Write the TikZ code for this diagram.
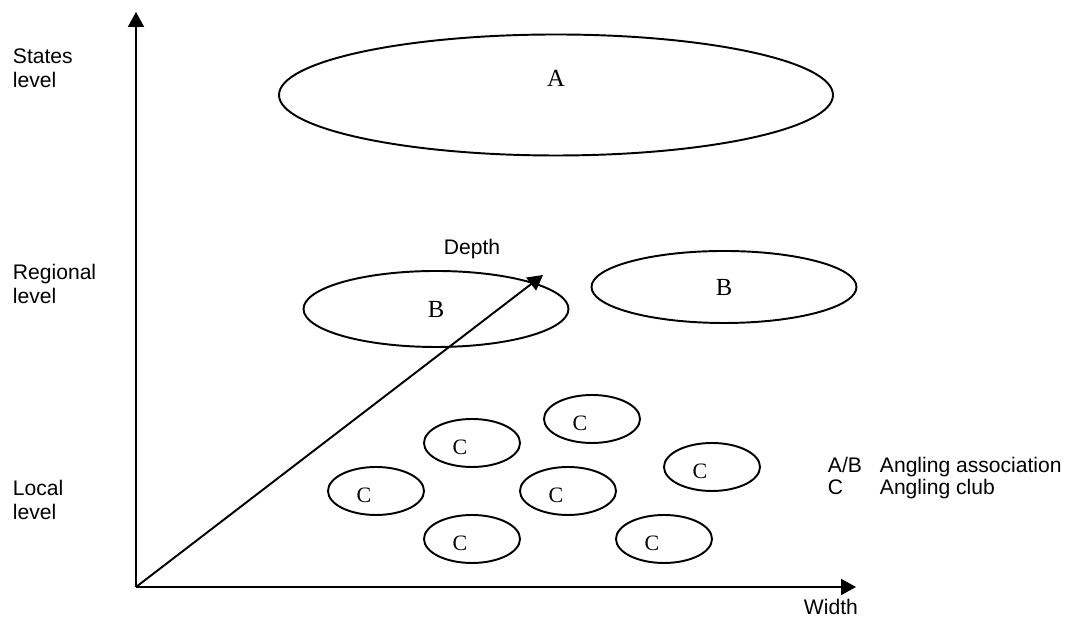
\documentclass[tikz,border=0pt]{standalone}
\usepackage{fontspec}
\setmainfont{Liberation Serif}
\setsansfont{Liberation Sans}
\usetikzlibrary{arrows.meta,shapes.geometric}

\begin{document}
\begin{tikzpicture}[-{Triangle[length=3mm,width=3.2mm]}, line width=1.1pt]
   \useasboundingbox (0,0) rectangle (21.38,12.42);
   \tikzstyle{assoc}=[ellipse, draw=black, inner sep=0, font=\fontsize{14}{16}\selectfont]
   \tikzstyle{club}=[assoc, minimum width=1.92cm, minimum height=0.96cm]
   \tikzstyle{lbl}=[inner sep=0, align=left, font=\sffamily\fontsize{12}{14.2}\selectfont]
   % axes
   \coordinate (origin) at (2.72,0.68);
   \coordinate (top) at (2.72,12.18);
   \coordinate (right) at (17.12,0.68);
   \coordinate (deep) at (10.86,6.92);
   \path (origin) edge (top);
   \path (origin) edge (right);
   \path (origin) edge (deep);
   \node[lbl] (depth) at (9.44,7.44) {Depth};
   \node[lbl, anchor=base west] (width) at (16.06,0.12) {Width};
   % levels
   \node[lbl, anchor=base west] (states) at (0.24,10.66) {States\\level};
   \node[lbl, anchor=base west] (regional) at (0.24,6.34) {Regional\\level};
   \node[lbl, anchor=base west] (local) at (0.24,2.02) {Local\\level};
   % associations
   \node[assoc, minimum width=11.08cm, minimum height=2.42cm,
         label={[yshift=0.34cm, font=\fontsize{14}{16}\selectfont]center:A}] (a) at (11.12,10.52) {};
   \node[assoc, minimum width=5.3cm, minimum height=1.52cm] (b1) at (8.72,6.24) {B};
   \node[assoc, minimum width=5.3cm, minimum height=1.44cm] (b2) at (14.48,6.68) {B};
   % clubs
   \foreach \x/\y [count=\i] in {9.44/3.56, 11.84/4.04, 14.24/3.08, 7.52/2.60, 11.36/2.60, 9.44/1.64, 13.28/1.64} {
       \node[club, label={[xshift=-0.24cm, yshift=-0.08cm, font=\fontsize{12.5}{14}\selectfont]center:C}] (c\i) at (\x,\y) {};
   }
   % legend
   \node[lbl, anchor=base west, font=\sffamily\fontsize{12}{13}\selectfont] (legend) at (16.54,2.52)
      {\makebox[1.04cm][l]{A/B}Angling association\\\makebox[1.04cm][l]{C}Angling club};
\end{tikzpicture}
\end{document}
